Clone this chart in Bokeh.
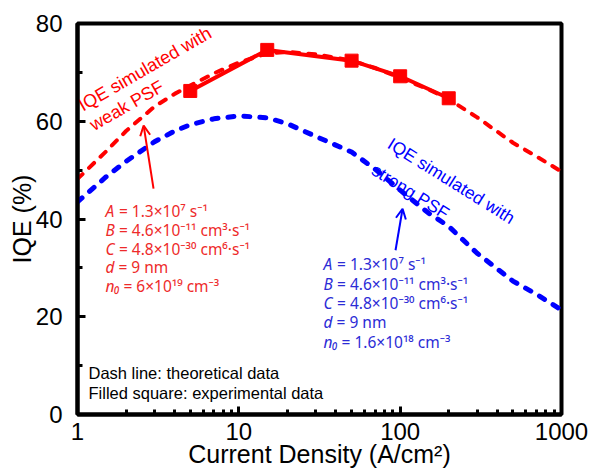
from bokeh.plotting import figure
from bokeh.models import FixedTicker, Arrow, OpenHead, ColumnDataSource
from bokeh.embed import file_html
from bokeh.resources import INLINE
from bokeh.core.properties import value

# ---------------- data ----------------
x_theory = [1, 1.5, 2, 3, 4, 5, 7, 10, 15, 20, 30, 50, 70, 100, 150, 200, 300, 500, 700, 1000]
iqe_weak_psf = [48.2, 53.8, 58.0, 63.0, 65.6, 67.3, 69.8, 72.0, 73.9, 74.2, 73.7, 72.4, 70.9, 68.9,
                66.5, 64.5, 60.8, 55.6, 52.8, 49.7]
iqe_strong_psf = [43.5, 48.6, 51.8, 55.8, 58.0, 59.3, 60.5, 61.1, 60.7, 59.5, 56.9, 53.7, 50.2, 45.9,
                  41.2, 38.5, 33.0, 27.3, 24.6, 21.4]
x_exp = [5, 15, 50, 100, 200]
iqe_exp = [66.2, 74.6, 72.4, 69.2, 64.7]

x_ticks = [1, 10, 100, 1000]
x_tick_labels = ["1", "10", "100", "1000"]
x_minor_ticks = [2, 3, 4, 5, 6, 7, 8, 9, 20, 30, 40, 50, 60, 70, 80, 90,
                 200, 300, 400, 500, 600, 700, 800, 900]
y_ticks = [0, 20, 40, 60, 80]
y_tick_labels = ["0", "20", "40", "60", "80"]
y_minor_ticks = [10, 30, 50, 70]

weak_label_lines = ["IQE simulated with", "weak PSF"]
strong_label_lines = ["IQE simulated with", "strong PSF"]
param_names = ["A", "B", "C", "d", "n\u2080"]
weak_values = ["= 1.3\u00d710\u2077 s\u207b\u00b9",
               "= 4.6\u00d710\u207b\u00b9\u00b9 cm\u00b3\u00b7s\u207b\u00b9",
               "= 4.8\u00d710\u207b\u00b3\u2070 cm\u2076\u00b7s\u207b\u00b9",
               "= 9 nm",
               "= 6\u00d710\u00b9\u2079 cm\u207b\u00b3"]
strong_values = ["= 1.3\u00d710\u2077 s\u207b\u00b9",
                 "= 4.6\u00d710\u207b\u00b9\u00b9 cm\u00b3\u00b7s\u207b\u00b9",
                 "= 4.8\u00d710\u207b\u00b3\u2070 cm\u2076\u00b7s\u207b\u00b9",
                 "= 9 nm",
                 "= 1.6\u00d710\u00b9\u2078 cm\u207b\u00b3"]
notes = ["Dash line: theoretical data", "Filled square: experimental data"]

RED = "#FF0000"
BLUE = "#0000FF"
RED_TXT = "#EE2A2A"
BLUE_TXT = "#2B2BD6"
FONT = "Liberation Sans"
PFONT = "Noto Sans"

# ---------------- figure ----------------
p = figure(width=589, height=475, x_axis_type="log", x_range=(1, 1000), y_range=(0, 80),
           output_backend="svg", toolbar_location=None,
           min_border_left=77, min_border_right=28, min_border_top=23, min_border_bottom=61)
p.xgrid.visible = False
p.ygrid.visible = False
p.outline_line_color = "black"
p.outline_line_width = 4
p.outline_line_alpha = 1.0
p.background_fill_color = "white"
p.border_fill_color = "white"

p.xaxis.ticker = FixedTicker(ticks=x_ticks, minor_ticks=x_minor_ticks)
p.xaxis.major_label_overrides = {t: l for t, l in zip(x_ticks, x_tick_labels)}
p.yaxis.ticker = FixedTicker(ticks=y_ticks, minor_ticks=y_minor_ticks)
p.yaxis.major_label_overrides = {t: l for t, l in zip(y_ticks, y_tick_labels)}

for ax in (p.xaxis[0], p.yaxis[0]):
    ax.axis_line_width = 4
    ax.axis_line_color = "black"
    ax.major_tick_in = 8
    ax.major_tick_out = 0
    ax.minor_tick_in = 5
    ax.minor_tick_out = 0
    ax.major_tick_line_width = 3
    ax.minor_tick_line_width = 3
    ax.major_tick_line_color = "black"
    ax.minor_tick_line_color = "black"
    ax.major_label_text_font = FONT
    ax.major_label_text_font_size = "24px"
    ax.major_label_text_color = "black"
    ax.axis_label_text_font = FONT
    ax.axis_label_text_font_size = "25px"
    ax.axis_label_text_font_style = "normal"
    ax.axis_label_text_color = "black"

p.xaxis.axis_label = "Current Density (A/cm\u00b2)"
p.yaxis.axis_label = "IQE (%)"
p.xaxis.major_label_standoff = 8
p.xaxis.axis_label_standoff = -3
p.yaxis.major_label_standoff = 15
p.yaxis.axis_label_standoff = -3

# ---------------- curves ----------------
p.line(x_theory, iqe_weak_psf, line_color=RED, line_width=4, line_dash="7 9", line_cap="round")
p.line(x_theory, iqe_strong_psf, line_color=BLUE, line_width=5, line_dash="6 10", line_cap="round")
p.line(x_exp, iqe_exp, line_color=RED, line_width=4)
p.scatter(x_exp, iqe_exp, marker="square", size=13, fill_color=RED, line_color=RED)

# ---------------- arrows ----------------
p.add_layout(Arrow(end=OpenHead(size=10, line_color=RED, line_width=2),
                   x_start=2.96, y_start=46.2, x_end=2.57, y_end=59.1,
                   line_color=RED, line_width=2))
p.add_layout(Arrow(end=OpenHead(size=10, line_color=BLUE, line_width=2),
                   x_start=93.6, y_start=33.6, x_end=103.5, y_end=42.1,
                   line_color=BLUE, line_width=2))

# ---------------- rotated labels (one glyph per line, anchored at baseline-left) ----------------
p.text(x=[1.036, 1.216], y=[63.0, 59.03], text=weak_label_lines, angle=30, angle_units="deg",
       text_align="left", text_baseline="alphabetic",
       text_font=value(FONT), text_font_size="18px", text_color=RED)
p.text(x=[85.9, 68.2], y=[55.7, 50.37], text=strong_label_lines, angle=-32, angle_units="deg",
       text_align="left", text_baseline="alphabetic",
       text_font=value(FONT), text_font_size="17.5px", text_color=BLUE)

# ---------------- parameter blocks ----------------
name_offsets = [0, 0, 0, 0, 0]
value_offsets = [13.5, 13.5, 13.5, 13, 18]


def param_block(x0, ys, values, color):
    src_n = ColumnDataSource(dict(x=[x0] * len(ys), y=ys, t=param_names, o=name_offsets))
    src_v = ColumnDataSource(dict(x=[x0] * len(ys), y=ys, t=values, o=value_offsets))
    p.text(x="x", y="y", text="t", x_offset="o", source=src_n, text_align="left",
           text_baseline="middle", text_font=value(PFONT), text_font_size="15.5px",
           text_font_style="italic", text_color=color)
    p.text(x="x", y="y", text="t", x_offset="o", source=src_v, text_align="left",
           text_baseline="middle", text_font=value(PFONT), text_font_size="15.5px",
           text_color=color)


param_block(1.49, [41.7, 37.8, 33.9, 30.1, 26.2], weak_values, RED_TXT)
param_block(33.5, [30.7, 26.8, 22.9, 19.0, 14.9], strong_values, BLUE_TXT)

p.text(x=[1.17, 1.17], y=[8.4, 4.5], text=notes, text_align="left", text_baseline="middle",
       text_font=value(FONT), text_font_size="16.5px", text_color="black")

open("out.html", "w").write(file_html(p, INLINE))
